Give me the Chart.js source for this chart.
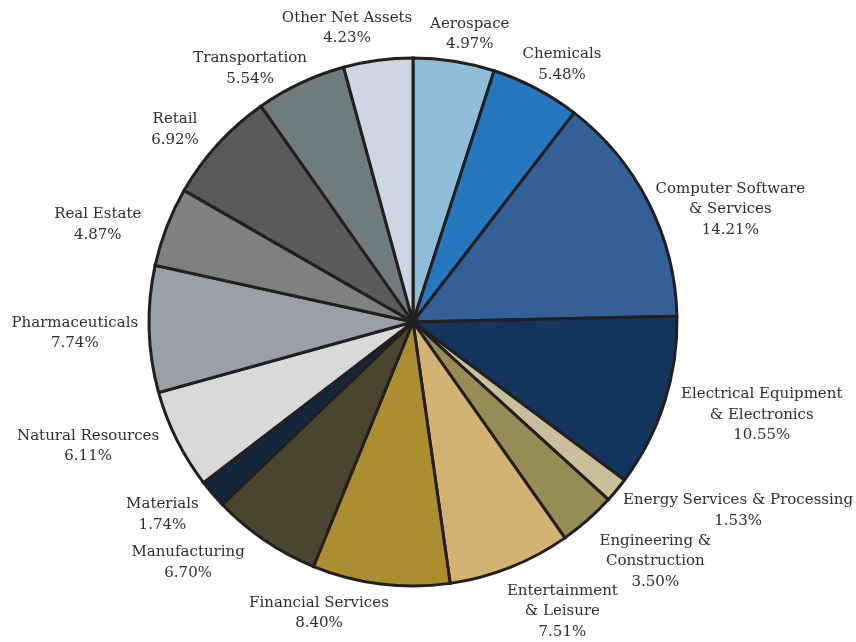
<!DOCTYPE html>
<html>
<head>
<meta charset="utf-8">
<script src="https://cdn.jsdelivr.net/npm/chart.js@4.4.0/dist/chart.umd.min.js"></script>
<style>
  html, body { margin: 0; padding: 0; background: #ffffff; }
  #wrap { width: 856px; height: 642px; }
</style>
</head>
<body>
<div id="wrap"><canvas id="c" width="856" height="642"></canvas></div>
<script>
// ---- Data ----
const categories = [
  "Aerospace",
  "Chemicals",
  "Computer Software\n& Services",
  "Electrical Equipment\n& Electronics",
  "Energy Services & Processing",
  "Engineering &\nConstruction",
  "Entertainment\n& Leisure",
  "Financial Services",
  "Manufacturing",
  "Materials",
  "Natural Resources",
  "Pharmaceuticals",
  "Real Estate",
  "Retail",
  "Transportation",
  "Other Net Assets"
];
const values = [4.97, 5.48, 14.21, 10.55, 1.53, 3.50, 7.51, 8.40, 6.70, 1.74, 6.11, 7.74, 4.87, 6.92, 5.54, 4.23];
const sliceColors = [
  "#8fbdd9", "#2777bf", "#336096", "#13355e", "#c9c09b", "#968d56",
  "#d4b372", "#ac8e30", "#4b4530", "#14273d", "#d9d9d9", "#98a1aa",
  "#80807f", "#5a5a5a", "#6e7c7f", "#cdd6e2"
];
// label placement tweaks (dx, dy in px) relative to the automatic outside placement
const labelNudge = [
  [8, 3], [3, 3], [6, 25], [11, 0], [25, 1], [24, 11], [28, 6], [-52, -1],
  [-39, -3], [-15, 1], [-16, -7], [-1, 3], [-19, 9], [-18, 6], [-22, 13], [-21, -2]
];

const LABEL_FONT = '15px "DejaVu Serif", Georgia, serif';
const LINE_H = 20.5;

const outsideLabels = {
  id: 'outsideLabels',
  afterDatasetsDraw(chart) {
    const ctx = chart.ctx;
    const meta = chart.getDatasetMeta(0);
    ctx.save();
    ctx.font = LABEL_FONT;
    ctx.fillStyle = '#2e2e2e';
    ctx.textAlign = 'center';
    ctx.textBaseline = 'middle';
    meta.data.forEach((arc, i) => {
      const p = arc.getProps(['x', 'y', 'startAngle', 'endAngle', 'outerRadius'], true);
      const mid = (p.startAngle + p.endAngle) / 2;
      const ux = Math.cos(mid), uy = Math.sin(mid);
      const lines = categories[i].split('\n').concat([values[i].toFixed(2) + '%']);
      let w = 0;
      lines.forEach(l => { w = Math.max(w, ctx.measureText(l).width); });
      const h = lines.length * LINE_H;
      const r = p.outerRadius + 10;
      const cx = p.x + ux * r + ux * w / 2 + labelNudge[i][0];
      const cy = p.y + uy * r + uy * h / 2 + labelNudge[i][1];
      lines.forEach((l, k) => {
        ctx.fillText(l, cx, cy - h / 2 + LINE_H * (k + 0.5));
      });
    });
    ctx.restore();
  }
};

new Chart(document.getElementById('c'), {
  type: 'pie',
  data: {
    labels: categories,
    datasets: [{
      data: values,
      backgroundColor: sliceColors,
      borderColor: '#231f20',
      borderWidth: 3,
      borderJoinStyle: 'miter'
    }]
  },
  options: {
    responsive: false,
    animation: false,
    radius: 264,
    layout: { padding: { left: 0, right: 30, top: 2, bottom: 0 } },
    plugins: {
      legend: { display: false },
      tooltip: { enabled: false }
    }
  },
  plugins: [outsideLabels]
});
</script>
</body>
</html>
